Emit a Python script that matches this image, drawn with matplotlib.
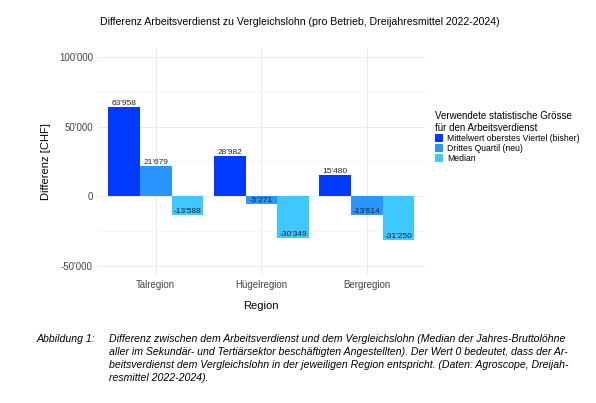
import matplotlib
matplotlib.use("Agg")
import matplotlib.pyplot as plt
import numpy as np

plt.rcParams['font.family'] = ['Liberation Sans', 'DejaVu Sans']

regions = ["Talregion", "Hügelregion", "Bergregion"]
series = ["Mittelwert oberstes Viertel (bisher)", "Drittes Quartil (neu)", "Median"]
mittelwert = [63958, 28982, 15480]
quartil = [21679, -5271, -13614]
median = [-13588, -30349, -31250]
colors = ["#0039FF", "#2B95FF", "#3FC8FF"]
yticks = [-50000, 0, 50000, 100000]
yticklabels = ["-50'000", "0", "50'000", "100'000"]

def fmt(v):
    s = f"{abs(v):,}".replace(",", "'")
    return ("-" if v < 0 else "") + s

fig = plt.figure(figsize=(5.96, 4.03), dpi=100)
ax = fig.add_axes([0.164, 0.318, 0.549, 0.563])
x = np.arange(len(regions))
w = 0.3
for i, (vals, c, lab) in enumerate(zip([mittelwert, quartil, median], colors, series)):
    pos = x + (i - 1) * w
    ax.bar(pos, vals, w, color=c, label=lab, zorder=2)
    for p, v in zip(pos, vals):
        ax.text(p, v, fmt(v), ha="center", va="bottom", fontsize=6, color="#222222", zorder=3)

ax.set_xlim(-0.55, 2.55)
ax.set_ylim(-56500, 106500)
ax.set_yticks(yticks)
ax.set_yticklabels(yticklabels)
ax.set_yticks([-25000, 25000, 75000], minor=True)
ax.set_xticks(x)
ax.set_xticklabels(regions)
ax.tick_params(length=0, labelsize=7, colors="#444444", which="both")
ax.grid(True, which="major", color="#ebebeb", linewidth=0.7, zorder=0)
ax.grid(True, which="minor", axis="y", color="#f3f3f3", linewidth=0.5, zorder=0)
for s in ax.spines.values():
    s.set_visible(False)
ax.set_xlabel("Region", fontsize=8, labelpad=8)
ax.set_ylabel("Differenz [CHF]", fontsize=8, labelpad=6)

fig.text(0.503, 0.945, "Differenz Arbeitsverdienst zu Vergleichslohn (pro Betrieb, Dreijahresmittel 2022-2024)",
         ha="center", va="center", fontsize=7.6)

leg = ax.legend(loc="upper left", bbox_to_anchor=(1.03, 0.72), frameon=False, fontsize=6.2,
                title="Verwendete statistische Grösse\nfür den Arbeitsverdienst", title_fontsize=7,
                handlelength=1.0, handleheight=1.0, handletextpad=0.4, labelspacing=0.1, borderpad=0, borderaxespad=0)
leg._legend_box.align = "left"

fig.text(0.062, 0.172, "Abbildung 1:", fontsize=7.6, style="italic", va="top")
fig.text(0.183, 0.172,
         "Differenz zwischen dem Arbeitsverdienst und dem Vergleichslohn (Median der Jahres-Bruttolöhne\n"
         "aller im Sekundär- und Tertiärsektor beschäftigten Angestellten). Der Wert 0 bedeutet, dass der Ar-\n"
         "beitsverdienst dem Vergleichslohn in der jeweiligen Region entspricht. (Daten: Agroscope, Dreijah-\n"
         "resmittel 2022-2024).",
         fontsize=7.6, style="italic", va="top", linespacing=1.4)

fig.savefig("out.png", dpi=100)
